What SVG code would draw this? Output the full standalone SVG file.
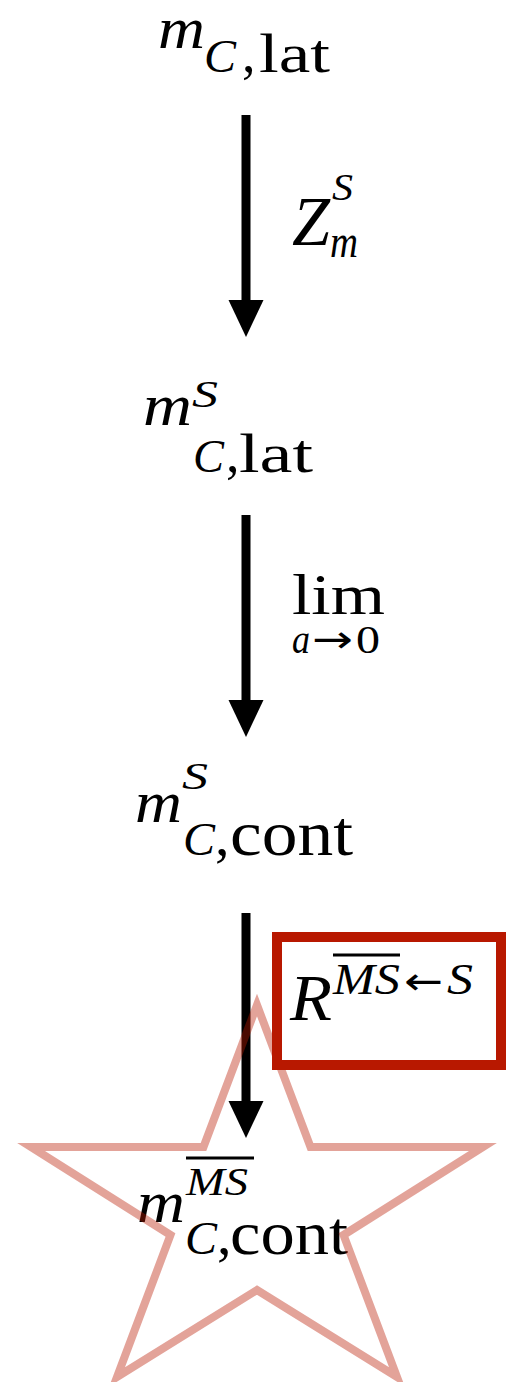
<svg xmlns="http://www.w3.org/2000/svg" width="507" height="1382" viewBox="0 0 507 1382">
<style>
  text { font-family: "Liberation Serif", "Times New Roman", serif; fill: #000; }
  .it { font-style: italic; }
  .arr { font-family: "DejaVu Sans", sans-serif; }
  .shaft { stroke: #000; stroke-width: 9; fill: none; }
  .bar { stroke: #000; stroke-width: 3; }
  .star { fill: none; stroke: #b81800; stroke-opacity: 0.4; stroke-width: 8; stroke-linejoin: miter; }
  .box { fill: none; stroke: #b81800; stroke-width: 10; }
</style>
<defs>
  <marker id="ah" markerUnits="userSpaceOnUse" markerWidth="38" markerHeight="36" refX="0" refY="17.5" orient="auto" viewBox="0 0 38 36">
    <path d="M0,0 L37,17.5 L0,35 Z" fill="#000"/>
  </marker>
</defs>
<rect width="507" height="1382" fill="#fff"/>

<g id="connectors">
  <line class="shaft" x1="246" y1="115" x2="246" y2="300" marker-end="url(#ah)"/>
  <line class="shaft" x1="246" y1="515" x2="246" y2="700" marker-end="url(#ah)"/>
  <line class="shaft" x1="246" y1="913" x2="246" y2="1101" marker-end="url(#ah)"/>
  <g id="label-Z">
    <text class="it" x="292" y="245" font-size="70" textLength="38" lengthAdjust="spacingAndGlyphs">Z</text>
    <text class="it" x="332" y="200" font-size="38" textLength="21" lengthAdjust="spacingAndGlyphs">S</text>
    <text class="it" x="330" y="257" font-size="46" textLength="28" lengthAdjust="spacingAndGlyphs">m</text>
  </g>
  <g id="label-lim">
    <text x="292" y="614" font-size="56" textLength="93" lengthAdjust="spacingAndGlyphs">lim</text>
    <text class="it" x="292" y="653" font-size="40" textLength="18" lengthAdjust="spacingAndGlyphs">a</text>
    <text class="arr" x="312" y="652" font-size="38" textLength="41" lengthAdjust="spacingAndGlyphs">→</text>
    <text x="356" y="653" font-size="40" textLength="24" lengthAdjust="spacingAndGlyphs">0</text>
  </g>
</g>

<g id="node-m-lat">
  <text class="it" x="158" y="48" font-size="60" textLength="47" lengthAdjust="spacingAndGlyphs">m</text>
  <text class="it" x="204" y="72" font-size="46" textLength="32" lengthAdjust="spacingAndGlyphs">C</text>
  <text x="242" y="72" font-size="54">,</text>
  <text x="259" y="72" font-size="54" textLength="71" lengthAdjust="spacingAndGlyphs">lat</text>
</g>

<g id="node-mS-lat">
  <text class="it" x="143" y="425" font-size="60" textLength="49" lengthAdjust="spacingAndGlyphs">m</text>
  <text class="it" x="192" y="407" font-size="38" textLength="26" lengthAdjust="spacingAndGlyphs">S</text>
  <text class="it" x="193" y="472" font-size="46" textLength="31" lengthAdjust="spacingAndGlyphs">C</text>
  <text x="226" y="472" font-size="54">,</text>
  <text x="239" y="472" font-size="54" textLength="74" lengthAdjust="spacingAndGlyphs">lat</text>
</g>

<g id="node-mS-cont">
  <text class="it" x="135" y="822" font-size="60" textLength="47" lengthAdjust="spacingAndGlyphs">m</text>
  <text class="it" x="182" y="789" font-size="38" textLength="26" lengthAdjust="spacingAndGlyphs">S</text>
  <text class="it" x="183" y="855" font-size="46" textLength="32" lengthAdjust="spacingAndGlyphs">C</text>
  <text x="215" y="855" font-size="58">,</text>
  <text x="230" y="855" font-size="64" textLength="123" lengthAdjust="spacingAndGlyphs">cont</text>
</g>

<g id="node-mMS-cont">
  <text class="it" x="137" y="1222" font-size="60" textLength="48" lengthAdjust="spacingAndGlyphs">m</text>
  <text class="it" x="186" y="1195" font-size="40" textLength="62" lengthAdjust="spacingAndGlyphs">MS</text>
  <line class="bar" x1="186" y1="1158" x2="254" y2="1158"/>
  <text class="it" x="185" y="1254" font-size="46" textLength="32" lengthAdjust="spacingAndGlyphs">C</text>
  <text x="217" y="1254" font-size="58">,</text>
  <text x="230" y="1254" font-size="62" textLength="118" lengthAdjust="spacingAndGlyphs">cont</text>
</g>

<g id="star-highlight">
  <polygon class="star" points="257,1005 310.5,1147 483,1147 343.5,1235 397,1377 257,1290 117,1377 170.5,1235 31,1147 203.5,1147"/>
</g>

<g id="label-R">
  <rect class="box" x="277" y="937" width="224" height="128"/>
  <text class="it" x="290" y="1020" font-size="66" textLength="42" lengthAdjust="spacingAndGlyphs">R</text>
  <text class="it" x="333" y="994" font-size="44" textLength="67" lengthAdjust="spacingAndGlyphs">MS</text>
  <line class="bar" x1="333" y1="955" x2="400" y2="955"/>
  <text class="arr" x="404" y="994" font-size="38" textLength="39" lengthAdjust="spacingAndGlyphs">←</text>
  <text class="it" x="447" y="994" font-size="44" textLength="26" lengthAdjust="spacingAndGlyphs">S</text>
</g>
</svg>
